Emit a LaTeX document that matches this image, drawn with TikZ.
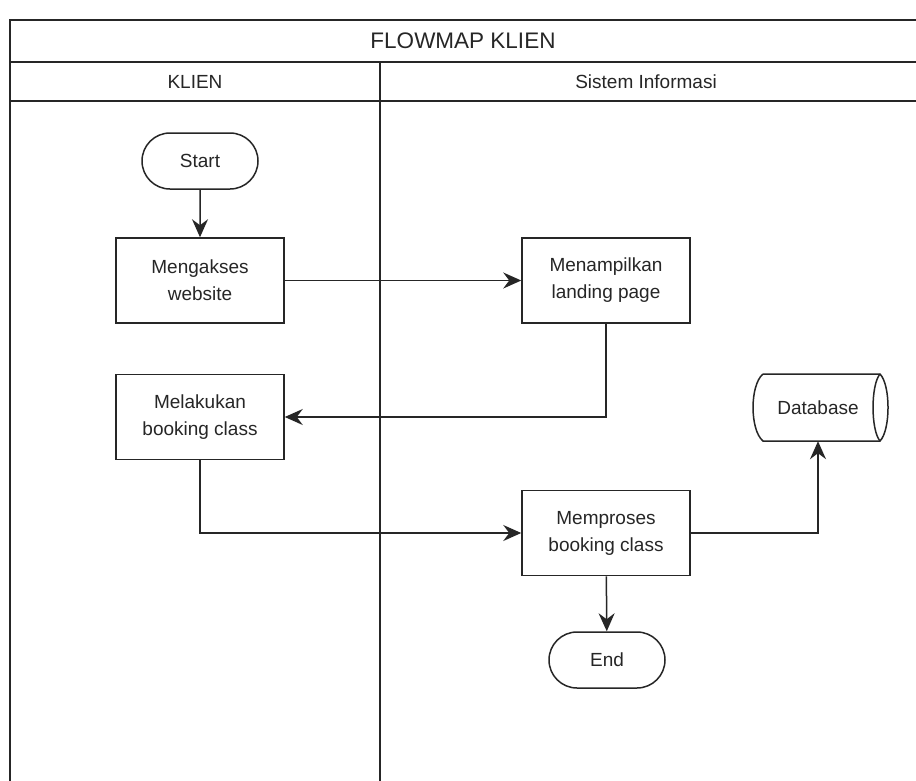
\documentclass[tikz,border=0pt]{standalone}
\usepackage{fontspec}
\setmainfont{Liberation Sans}
\usetikzlibrary{arrows.meta,positioning,shapes.misc}
\begin{document}
\begin{tikzpicture}[x=1pt,y=-1pt,
  frame/.style={line width=1.7pt,draw=black!85},
  box/.style={draw=black!85,line width=1.5pt,rectangle,minimum width=168pt,minimum height=85pt,align=center,font=\fontsize{19}{27}\selectfont,text=black!85,inner sep=0pt},
  term/.style={draw=black!85,line width=1.5pt,rounded rectangle,minimum width=116pt,minimum height=56pt,font=\fontsize{19}{23}\selectfont,text=black!85,inner sep=0pt},
  conn/.style={line width=1.5pt,draw=black!85,-{Stealth[length=18pt,width=16pt,inset=6pt]}},
  hdr/.style={font=\fontsize{19}{23}\selectfont,text=black!85},
]
\useasboundingbox (0,0) rectangle (916,780);
\fill[white] (0,0) rectangle (916,780);
% frame
\draw[frame] (10,782) -- (10,20) -- (917,20);
\draw[frame] (10,62) -- (917,62);
\draw[frame] (10,101) -- (917,101);
\draw[frame] (380,62) -- (380,782);
\node[font=\fontsize{22.5}{26}\selectfont,text=black!85] (title) at (463,41) {FLOWMAP KLIEN};
\node[hdr] (lk) at (195,82) {KLIEN};
\node[hdr] (ls) at (646,82) {Sistem Informasi};
% nodes
\node[term] (start) at (200,161) {Start};
\node[box] (akses) at (200,280.5) {Mengakses\\website};
\node[box] (tampil) at (606,280.5) {Menampilkan\\landing page};
\node[box] (booking) at (200,417) {Melakukan\\booking class};
\node[box] (proses) at (606,533) {Memproses\\booking class};
\node[term] (end) at (607,660) {End};
% database
\node[minimum width=135pt,minimum height=67pt,inner sep=0pt,font=\fontsize{19}{23}\selectfont,text=black!85] (db) at (818,407.5) {Database};
\draw[line width=1.5pt,draw=black!85] (763,374) -- (880,374) .. controls (890.7,385) and (890.7,430) .. (880,441) -- (763,441) .. controls (749.7,430) and (749.7,385) .. (763,374);
\draw[line width=1.5pt,draw=black!85] (880,374) .. controls (870.7,385) and (870.7,430) .. (880,441);
% connectors
\draw[conn] (start) -- (akses);
\draw[conn] (akses) -- (tampil);
\draw[conn] (tampil.south) |- (booking.east);
\draw[conn] (booking.south) |- (proses.west);
\draw[conn] (proses.east) -| (db.south);
\draw[conn] (proses) -- (end);
\end{tikzpicture}
\end{document}
